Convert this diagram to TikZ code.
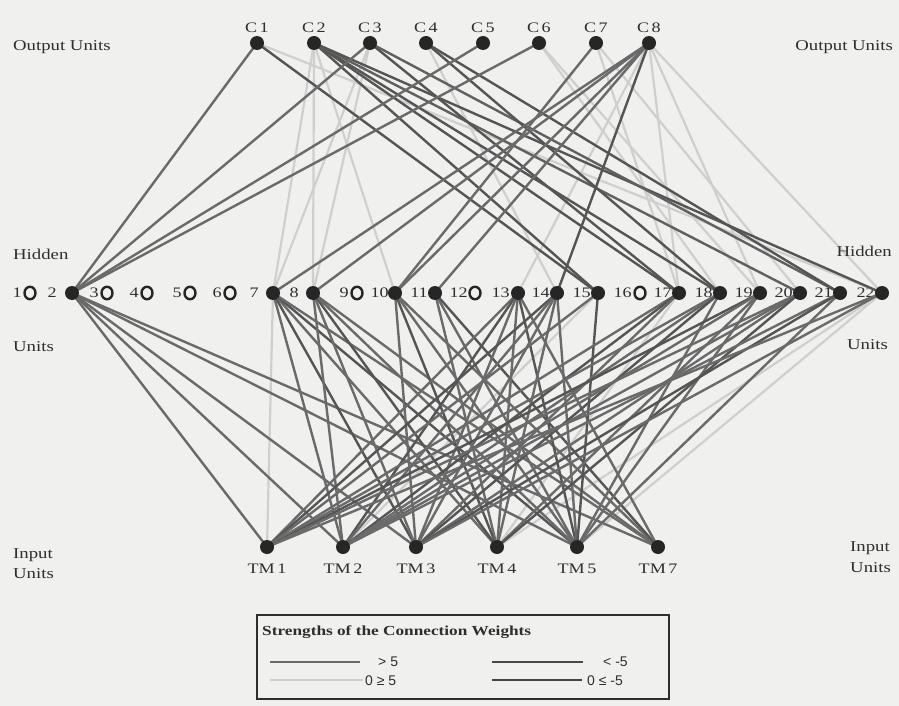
\documentclass[tikz,border=0pt]{standalone}
\usepackage{fontspec}
\usetikzlibrary{shapes.geometric}
\setmainfont{Liberation Serif}[FakeStretch=1.25]
\newfontfamily\legendfont{Liberation Sans}
\definecolor{paper}{HTML}{F0F0EE}
\definecolor{dotcol}{HTML}{262626}
\definecolor{colpos}{HTML}{6A6A6A}
\definecolor{colposlow}{HTML}{CFCFCF}
\definecolor{colneg}{HTML}{555555}
\definecolor{colneglow}{HTML}{606060}
\definecolor{inkcol}{HTML}{2E2E2E}
\begin{document}
\begin{tikzpicture}[x=1pt,y=-1pt,
  wpos/.style={draw=colpos,line width=2.4pt},
  wposlow/.style={draw=colposlow,line width=2.2pt},
  wneg/.style={draw=colneg,line width=2.4pt},
  wneglow/.style={draw=colneglow,line width=2.4pt},
  unitdot/.style={circle,fill=dotcol,inner sep=0pt,minimum size=14pt},
  emptyunit/.style={ellipse,draw=dotcol,line width=2.4pt,inner sep=0pt,minimum width=11pt,minimum height=12.5pt},
  sidetext/.style={text=inkcol,font=\fontsize{15}{17}\selectfont,inner sep=0pt},
  unitname/.style={text=inkcol,font=\fontsize{14.5}{16}\selectfont,inner sep=0pt},
  legendtext/.style={text=inkcol,font=\legendfont\fontsize{14}{16}\selectfont,inner sep=0pt}]

% paper and picture frame
\fill[paper] (0,0) rectangle (899,706);
\useasboundingbox (0,0) rectangle (899,706);

% output units
\foreach \n/\x in {1/257,2/314,3/370,4/426,5/483,6/539,7/596,8/649}{
  \coordinate (c\n) at (\x,43);
  \node[unitname] (cl\n) at (\x,28) {C\,\n};
}

% hidden units: number, x position, label gap
\foreach \n/\x/\gap in {1/30/8,2/72/15,3/107/8,4/147/8,5/190/8,6/230/8,7/273/14,8/313/14,
  9/357/8,10/395/6,11/435/7,12/475/7,13/518/8,14/557/7,15/598/7,16/640/8,17/679/7,
  18/720/7,19/760/7,20/800/7,21/840/7,22/882/7}{
  \coordinate (h\n) at (\x,293);
  \node[unitname,anchor=east] (hl\n) at (\x-\gap,293) {\n};
}

% input units
\foreach \n/\x in {1/267,2/343,3/416,4/497,5/577,7/658}{
  \coordinate (t\n) at (\x,547);
  \node[unitname] (tl\n) at (\x,569) {TM\,\n};
}

% output -- hidden connections
\foreach \a/\b/\s in {
  c1/h22/wposlow, c2/h7/wposlow, c2/h8/wposlow, c2/h10/wposlow, c3/h7/wposlow,
  c3/h8/wposlow, c4/h14/wposlow, c6/h18/wposlow, c6/h19/wposlow, c7/h17/wposlow,
  c7/h20/wposlow, c8/h13/wposlow, c8/h17/wposlow, c8/h19/wposlow, c8/h22/wposlow,
  c1/h2/wpos, c1/h15/wneg, c2/h15/wneg, c2/h17/wneg, c2/h18/wneg, c2/h20/wneglow,
  c2/h22/wneg, c3/h2/wpos, c3/h17/wneg, c3/h21/wneglow, c4/h18/wneg, c4/h21/wneg,
  c5/h2/wpos, c6/h2/wpos, c7/h10/wpos, c8/h7/wpos, c8/h8/wpos, c8/h10/wpos,
  c8/h11/wpos, c8/h14/wneg}{
  \draw[\s] (\a) -- (\b);
}

% hidden -- input connections
\foreach \a/\b/\s in {
  h7/t1/wposlow, h17/t4/wposlow, h22/t4/wposlow, h22/t5/wposlow, h15/t2/wposlow,
  h2/t1/wpos, h2/t2/wpos, h2/t3/wpos, h2/t5/wpos, h2/t7/wpos,
  h7/t2/wpos, h7/t3/wneg, h7/t4/wpos, h7/t5/wneg, h7/t7/wpos,
  h8/t2/wpos, h8/t3/wpos, h8/t4/wneg, h8/t5/wpos, h8/t7/wpos,
  h10/t3/wpos, h10/t4/wneg, h10/t5/wpos, h10/t7/wpos,
  h11/t4/wpos, h11/t5/wpos, h11/t7/wneg,
  h13/t1/wpos, h13/t2/wneg, h13/t3/wpos, h13/t4/wpos, h13/t5/wneg, h13/t7/wpos,
  h14/t1/wneg, h14/t2/wpos, h14/t3/wpos, h14/t4/wpos, h14/t5/wpos,
  h15/t1/wpos, h15/t5/wneg,
  h17/t1/wpos, h17/t2/wneg, h17/t3/wpos,
  h18/t1/wpos, h18/t2/wpos, h18/t3/wneg, h18/t5/wpos,
  h19/t1/wneg, h19/t2/wpos, h19/t4/wpos, h19/t5/wpos,
  h20/t1/wpos, h20/t2/wpos, h20/t3/wpos, h20/t4/wneg,
  h21/t2/wpos, h21/t3/wneg, h21/t5/wpos,
  h22/t1/wpos, h22/t3/wpos}{
  \draw[\s] (\a) -- (\b);
}

% unit markers on top of the connections
\foreach \n in {1,...,8}{\node[unitdot] (cd\n) at (c\n) {};}
\foreach \n in {2,7,8,10,11,13,14,15,17,18,19,20,21,22}{\node[unitdot] (hd\n) at (h\n) {};}
\foreach \n in {1,3,4,5,6,9,12,16}{\node[emptyunit] (hd\n) at (h\n) {};}
\foreach \n in {1,2,3,4,5,7}{\node[unitdot] (td\n) at (t\n) {};}

% layer captions
\node[sidetext,anchor=west] (outl) at (13,47) {Output Units};
\node[sidetext,anchor=east] (outr) at (893,47) {Output Units};
\node[sidetext,anchor=west] (hidl) at (13,254) {Hidden};
\node[sidetext,anchor=east] (hidr) at (892,251) {Hidden};
\node[sidetext,anchor=west] (unl) at (13,347) {Units};
\node[sidetext,anchor=east] (unr) at (888,345) {Units};
\node[sidetext,anchor=west] (inl) at (13,555) {Input};
\node[sidetext,anchor=west] (inul) at (13,574) {Units};
\node[sidetext,anchor=west] (inr) at (850,548) {Input};
\node[sidetext,anchor=west] (inur) at (850,568) {Units};

% legend
\node[draw=inkcol,line width=1.8pt,minimum width=412pt,minimum height=84pt,
  inner sep=0pt,anchor=north west] (legend) at (256,614) {};
\node[text=inkcol,font=\bfseries\fontsize{13.8}{15}\selectfont,inner sep=0pt,anchor=west]
  (legtitle) at (262,632) {Strengths of the Connection Weights};
\coordinate (la1) at (270,662); \coordinate (lb1) at (360,662);
\coordinate (la2) at (270,680); \coordinate (lb2) at (363,680);
\coordinate (la3) at (492,662); \coordinate (lb3) at (583,662);
\coordinate (la4) at (492,680); \coordinate (lb4) at (582,680);
\draw[draw=colpos,line width=2.2pt] (la1) -- (lb1);
\draw[draw=colposlow,line width=2.2pt] (la2) -- (lb2);
\draw[draw=colneg!85!black,line width=2.2pt] (la3) -- (lb3);
\draw[draw=colneg!80!black,line width=2.2pt] (la4) -- (lb4);
\node[legendtext,anchor=west] (lt1) at (378,662) {> 5};
\node[legendtext,anchor=west] (lt2) at (365,681) {0 ≥ 5};
\node[legendtext,anchor=west] (lt3) at (603,662) {< -5};
\node[legendtext,anchor=west] (lt4) at (587,681) {0 ≤ -5};
\end{tikzpicture}
\end{document}
